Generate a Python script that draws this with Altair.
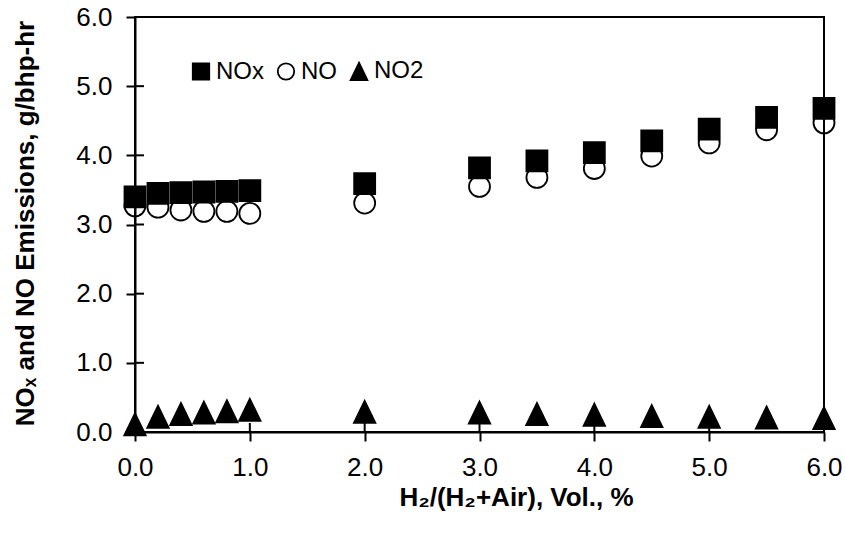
import altair as alt
import pandas as pd

h2_pct = [0.0, 0.2, 0.4, 0.6, 0.8, 1.0, 2.0, 3.0, 3.5, 4.0, 4.5, 5.0, 5.5, 6.0]
nox = [3.40, 3.45, 3.46, 3.47, 3.48, 3.49, 3.59, 3.82, 3.92, 4.04, 4.21, 4.38, 4.55, 4.68]
no = [3.27, 3.25, 3.21, 3.19, 3.19, 3.16, 3.31, 3.55, 3.68, 3.81, 3.99, 4.18, 4.37, 4.47]
no2 = [0.11, 0.22, 0.26, 0.28, 0.30, 0.32, 0.29, 0.28, 0.26, 0.25, 0.23, 0.22, 0.21, 0.20]
series = ["NOx", "NO", "NO2"]
tick_vals = [0, 1, 2, 3, 4, 5, 6]

rows = []
for name, vals in zip(series, [nox, no, no2]):
    for x, v in zip(h2_pct, vals):
        rows.append({"h2": x, "val": v, "series": name})
df = pd.DataFrame(rows)
ticks = pd.DataFrame({"t": tick_vals})

FONT = "Liberation Sans"
W, H = 689, 415

xscale = alt.Scale(domain=[0, 6], nice=False, zero=False)
yscale = alt.Scale(domain=[0, 6], nice=False, zero=False)

def leg():
    return alt.Legend(
        title=None, orient="none", legendX=54, legendY=42, direction="horizontal",
        labelFont=FONT, labelFontSize=24, labelColor="black", symbolSize=270,
        symbolStrokeColor="black", symbolStrokeWidth=1.8, labelOffset=3,
        columnPadding=10, padding=0,
    )

SQ = "M-1,-1H1V1H-1Z"
CI = "circle"
TR = "M0,-1.05L1.02,1.05L-1.02,1.05Z"

points = alt.Chart(df).mark_point(filled=False, strokeWidth=1.8, opacity=1, size=441).encode(
    x=alt.X("h2:Q", scale=xscale,
            axis=alt.Axis(values=tick_vals, format=".1f", title="H₂/(H₂+Air), Vol., %",
                          labelFlush=False, labelPadding=13,
                          titleX=381, titleY=65, titleBaseline="middle", titleFontSize=26)),
    y=alt.Y("val:Q", scale=yscale,
            axis=alt.Axis(values=tick_vals, format=".1f", title="NOₓ  and NO Emissions, g/bhp-hr",
                          labelFlush=False, labelPadding=14,
                          titleX=-110, titleY=206, titleAngle=-90, titleAlign="center",
                          titleBaseline="middle", titleFontSize=26)),
    shape=alt.Shape("series:N", scale=alt.Scale(domain=series, range=[SQ, CI, TR]), legend=leg()),
    fill=alt.Fill("series:N", scale=alt.Scale(domain=series, range=["black", "transparent", "black"]), legend=leg()),
    stroke=alt.Stroke("series:N", scale=alt.Scale(domain=series, range=["black", "black", "black"]), legend=leg()),
)

ytick_in = alt.Chart(ticks).mark_rule(color="black", strokeWidth=2).encode(
    y=alt.Y("t:Q", scale=yscale), x=alt.value(0), x2=alt.value(9)
)
xtick_in = alt.Chart(ticks).mark_rule(color="black", strokeWidth=2).encode(
    x=alt.X("t:Q", scale=xscale), y=alt.value(H), y2=alt.value(H - 9)
)

chart = alt.layer(ytick_in, xtick_in, points).properties(
    width=W, height=H,
    padding={"left": 135, "top": 17, "right": 21, "bottom": 107},
    autosize=alt.AutoSizeParams(type="none"),
    background="white",
).configure_view(
    stroke="black", strokeWidth=2
).configure_axis(
    domainColor="black", domainWidth=2, tickColor="black", tickWidth=2, tickSize=9,
    grid=False, labelFont=FONT, labelFontSize=26, labelColor="black",
    titleFont=FONT, titleFontWeight="bold", titleColor="black",
)

chart.save("out.html", embed_options={"renderer": "svg", "actions": False})
